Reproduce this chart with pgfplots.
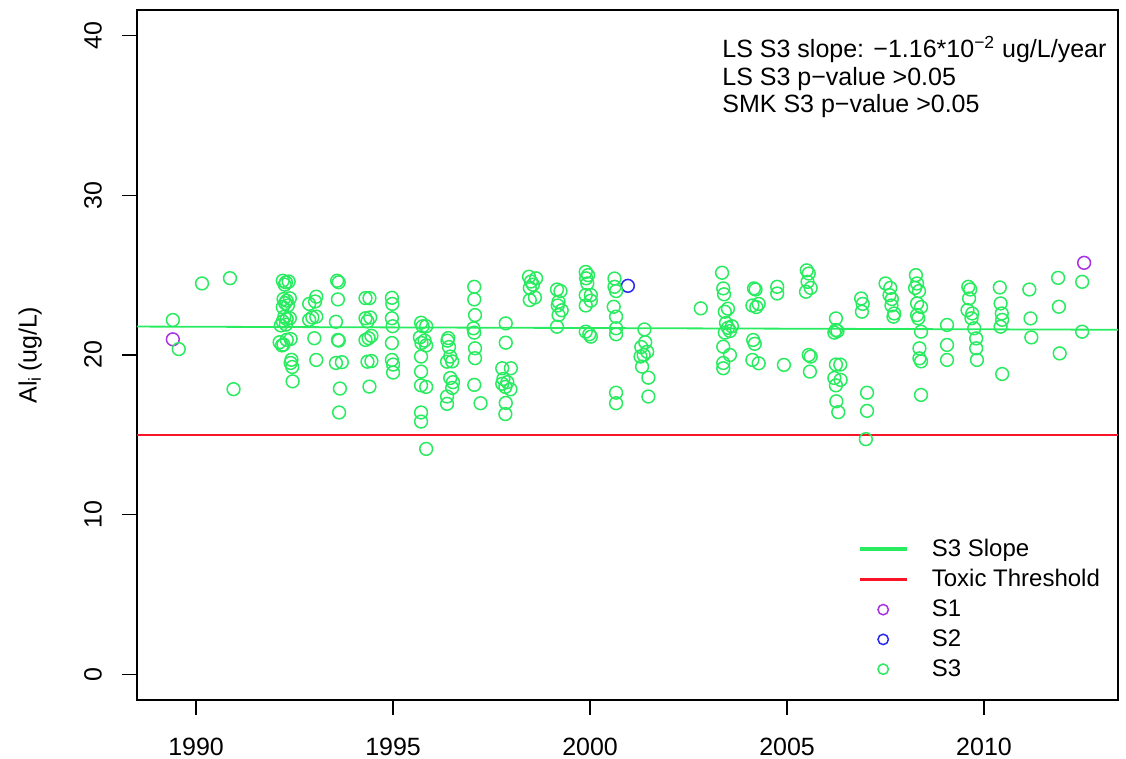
\documentclass[border=0pt]{standalone}
\usepackage{pgfplots}
\pgfplotsset{compat=1.18}
\usepackage{fontspec}
\setmainfont{Liberation Sans}
\definecolor{sthree}{RGB}{40,235,95}
\definecolor{sone}{RGB}{170,50,230}
\definecolor{stwo}{RGB}{40,40,240}
\definecolor{tred}{RGB}{250,20,40}
\pgfplotsset{
  greenleg/.style={legend image code/.code={\fill[fill=sthree] (0cm,-0.45pt) rectangle (0.8cm,0.45pt);}},
  redleg/.style={legend image code/.code={\fill[fill=tred] (0cm,-0.45pt) rectangle (0.8cm,0.45pt);}},
  dotleg/.style={legend image code/.code={\draw[##1, mark size=2.6pt] plot coordinates {(0.4cm,0cm)};}},
}
\begin{document}
\begin{tikzpicture}
\begin{axis}[
  width=490.5pt, height=345pt, scale only axis,
  xmin=1988.5, xmax=2013.4, ymin=-1.6, ymax=41.6,
  xtick={1990,1995,2000,2005,2010},
  ytick={0,10,20,30,40},
  tick pos=left, tick align=outside,
  major tick length=7.5pt,
  every tick/.style={black, line width=0.6pt},
  axis line style={line width=0.6pt},
  /pgf/number format/assume math mode=true,
  /pgf/number format/1000 sep={},
  tick label style={font=\fontsize{12.5}{14}\selectfont},
  yticklabel style={rotate=90, anchor=south},
  yticklabel shift=6.5pt,
  xticklabel shift=8pt,
  ylabel={Al\textsubscript{i}\,(ug/L)},
  ylabel style={font=\fontsize{12.5}{14}\selectfont, at={(axis description cs:-0.109,0.5)}, anchor=center},
  legend style={draw=none, fill=none, at={(axis description cs:0.73,0.2455)}, anchor=north west,
    font=\fontsize{12}{14}\selectfont, legend cell align=left, row sep=1pt, column sep=10.5pt},
]
\addplot[color=sthree, line width=0.9pt, greenleg] coordinates {(1988.5,21.78) (2013.4,21.58)};
\addlegendentry{S3 Slope}
\addplot[color=tred, line width=0.9pt, redleg] coordinates {(1988.5,15) (2013.4,15)};
\addlegendentry{Toxic Threshold}
\addplot[only marks, mark=o, mark size=3.2pt, color=sone, line width=0.75pt, dotleg] coordinates {
(1989.41,20.98) (2012.54,25.77)
};
\addlegendentry{S1}
\addplot[only marks, mark=o, mark size=3.2pt, color=stwo, line width=0.75pt, dotleg] coordinates {
(2000.96,24.33)
};
\addlegendentry{S2}
\addplot[only marks, mark=o, mark size=3.2pt, color=sthree, line width=0.75pt, dotleg] coordinates {
(1989.41,22.19) (1989.56,20.37) (1990.15,24.48) (1990.86,24.81) (1990.95,17.86)
(1992.20,24.65) (1992.28,24.55) (1992.35,24.60) (1992.25,24.40) (1992.22,23.50)
(1992.30,23.40) (1992.38,23.55) (1992.26,23.25) (1992.20,23.00) (1992.33,23.10)
(1992.24,22.40) (1992.30,22.25) (1992.38,22.30) (1992.20,22.10) (1992.28,21.90)
(1992.15,21.85) (1992.12,20.80) (1992.22,20.65) (1992.30,20.95) (1992.40,21.00)
(1992.18,20.60) (1992.42,19.70) (1992.40,19.50) (1992.44,19.25) (1992.45,18.35)
(1992.87,23.20) (1992.87,22.20) (1992.95,22.35) (1993.05,23.65) (1993.02,23.35)
(1993.05,22.40) (1993.00,21.05) (1993.05,19.69)
(1993.58,24.65) (1993.62,24.55) (1993.60,23.48) (1993.55,22.08) (1993.60,20.94)
(1993.62,20.90) (1993.55,19.50) (1993.70,19.55) (1993.65,17.90) (1993.63,16.40)
(1994.30,23.56) (1994.40,23.56) (1994.30,22.30) (1994.42,22.35) (1994.35,22.10)
(1994.45,21.20) (1994.30,20.94) (1994.38,21.05) (1994.35,19.58) (1994.45,19.62)
(1994.40,18.02)
(1994.97,23.58) (1994.98,23.20) (1994.97,22.30) (1994.99,21.80) (1994.97,20.75)
(1994.97,19.69) (1995.00,19.40) (1995.00,18.90)
(1995.71,22.02) (1995.75,21.80) (1995.68,21.10) (1995.72,20.75) (1995.80,20.90)
(1995.71,19.90) (1995.71,18.96) (1995.71,18.10) (1995.71,16.40) (1995.71,15.83)
(1995.84,21.80) (1995.84,20.60) (1995.84,18.00) (1995.84,14.12)
(1996.40,21.06) (1996.38,20.90) (1996.42,20.50) (1996.45,19.90) (1996.37,19.58)
(1996.50,19.60) (1996.45,18.56) (1996.52,18.30) (1996.50,17.94) (1996.37,17.40)
(1996.37,16.94)
(1997.06,24.27) (1997.06,23.48) (1997.08,22.50) (1997.04,21.67) (1997.06,21.40)
(1997.08,20.42) (1997.08,19.80) (1997.06,18.13) (1997.22,16.98)
(1997.86,21.98) (1997.86,20.77) (1997.77,19.17) (1997.99,19.17) (1997.80,18.50)
(1997.90,18.30) (1997.85,18.00) (1997.98,17.85) (1997.77,18.20) (1997.86,17.00)
(1997.85,16.30)
(1998.45,24.90) (1998.50,24.60) (1998.63,24.80) (1998.47,24.20) (1998.55,24.40)
(1998.47,23.44) (1998.60,23.60)
(1999.16,24.10) (1999.25,24.00) (1999.20,23.33) (1999.18,23.10) (1999.28,22.80)
(1999.20,22.50) (1999.16,21.77)
(1999.89,25.20) (1999.95,25.00) (1999.90,24.80) (1999.93,24.48) (2000.02,23.75)
(1999.89,23.75) (1999.89,23.10) (1999.89,21.46) (1999.98,21.30) (2000.02,21.15)
(2000.02,23.40)
(2000.62,24.79) (2000.62,24.27) (2000.66,24.00) (2000.60,23.02) (2000.66,22.40)
(2000.66,21.67) (2000.66,21.30) (2000.66,17.64) (2000.66,16.98)
(2001.38,21.60) (2001.30,20.50) (2001.40,20.80) (2001.45,20.20) (2001.36,20.00)
(2001.28,19.90) (2001.32,19.27) (2001.48,18.58) (2001.48,17.40)
(2002.81,22.92)
(2003.35,25.15) (2003.38,24.17) (2003.40,23.80) (2003.42,22.71) (2003.50,22.90)
(2003.45,22.00) (2003.50,21.70) (2003.55,21.50) (2003.42,21.40) (2003.60,21.80)
(2003.38,20.52) (2003.55,20.00) (2003.38,19.50) (2003.38,19.17)
(2004.16,24.17) (2004.20,24.10) (2004.12,23.10) (2004.22,23.00) (2004.14,20.94)
(2004.18,20.70) (2004.12,19.69) (2004.28,19.48) (2004.28,23.20)
(2004.75,24.27) (2004.75,23.85) (2004.92,19.38)
(2005.50,25.30) (2005.55,25.10) (2005.52,24.58) (2005.48,23.96) (2005.60,24.20)
(2005.55,20.00) (2005.60,19.90) (2005.58,18.96)
(2006.24,22.29) (2006.24,21.56) (2006.20,21.40) (2006.28,21.50) (2006.24,19.40)
(2006.35,19.40) (2006.20,18.56) (2006.36,18.44) (2006.24,18.10) (2006.25,17.10)
(2006.30,16.42)
(2006.88,23.54) (2006.92,23.20) (2006.90,22.71) (2007.03,17.64) (2007.03,16.50)
(2007.00,14.73)
(2007.50,24.48) (2007.62,24.20) (2007.60,23.75) (2007.66,23.50) (2007.65,23.10)
(2007.70,22.40) (2007.72,22.60)
(2008.27,25.00) (2008.30,24.48) (2008.25,24.20) (2008.35,24.00) (2008.30,23.23)
(2008.40,23.00) (2008.30,22.50) (2008.33,22.30) (2008.40,21.46) (2008.36,20.42)
(2008.36,19.79) (2008.40,19.60) (2008.40,17.50)
(2009.06,21.88) (2009.06,20.63) (2009.06,19.69)
(2009.60,24.27) (2009.65,24.10) (2009.62,23.54) (2009.58,22.81) (2009.70,22.60)
(2009.75,21.67) (2009.80,21.04) (2009.80,20.42) (2009.82,19.69) (2009.68,22.30)
(2010.40,24.23) (2010.42,23.23) (2010.45,22.60) (2010.46,22.20) (2010.42,21.77)
(2010.46,18.81)
(2011.15,24.10) (2011.18,22.29) (2011.20,21.10)
(2011.88,24.83) (2011.90,23.02) (2011.92,20.10)
(2012.49,24.58) (2012.49,21.46)
};
\addlegendentry{S3}
\node[anchor=north west, align=left, font=\fontsize{12.5}{13.75}\selectfont, inner sep=0pt]
  at (axis cs:2003.35,39.95) {LS S3 slope: −1.16*10\textsuperscript{−2} ug/L/year\\LS S3 p−value >0.05\\SMK S3 p−value >0.05};
\end{axis}
\pgfresetboundingbox
\useasboundingbox ([xshift=-68.5pt,yshift=-29.5pt]current axis.south west) rectangle ([xshift=4pt,yshift=5pt]current axis.north east);
\end{tikzpicture}
\end{document}
